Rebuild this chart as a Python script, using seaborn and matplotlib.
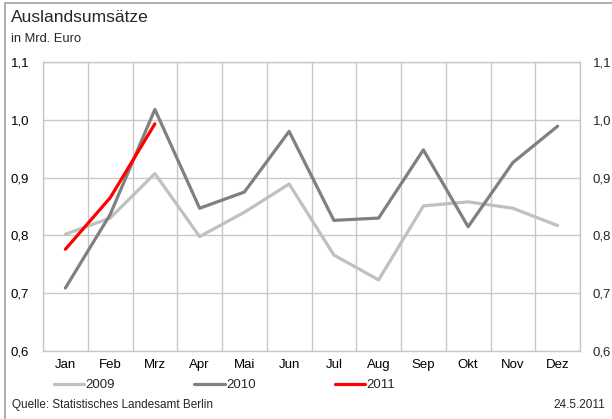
import matplotlib
matplotlib.use("Agg")
import matplotlib.pyplot as plt
import seaborn as sns
import pandas as pd
import numpy as np
from matplotlib.patches import Rectangle

months = ["Jan", "Feb", "Mrz", "Apr", "Mai", "Jun", "Jul", "Aug", "Sep", "Okt", "Nov", "Dez"]
v2009 = [0.802, 0.830, 0.907, 0.798, 0.840, 0.889, 0.766, 0.723, 0.851, 0.858, 0.847, 0.817]
v2010 = [0.709, 0.836, 1.018, 0.847, 0.875, 0.980, 0.826, 0.830, 0.948, 0.815, 0.926, 0.989]
v2011 = [0.776, 0.865, 0.993]
yticks = [0.6, 0.7, 0.8, 0.9, 1.0, 1.1]
ytick_labels = ["0,6", "0,7", "0,8", "0,9", "1,0", "1,1"]

sns.set_style("white")
plt.rcParams['font.family'] = ['Liberation Sans', 'DejaVu Sans']

rows = []
for year, vals in (("2009", v2009), ("2010", v2010), ("2011", v2011)):
    for i, v in enumerate(vals):
        rows.append({"pos": i, "Monat": months[i], "Wert": v, "Jahr": year})
df = pd.DataFrame(rows)

fig = plt.figure(figsize=(6.12, 4.19), dpi=100)
ax = fig.add_axes([43/612, 1-351/419, (580-43)/612, (351-62)/419])

palette = {"2009": "#c0c0c0", "2010": "#808080", "2011": "#ff0000"}
sns.lineplot(data=df, x="pos", y="Wert", hue="Jahr", palette=palette,
             linewidth=2.3, ax=ax, legend=True)

ax.set_xlim(-0.5, 11.5)
ax.set_ylim(0.6, 1.1)
ax.set_xticks(range(12))
ax.set_xticklabels(months)
ax.set_xticks(np.arange(-0.5, 12, 1), minor=True)
ax.set_yticks(yticks)
ax.set_yticklabels(ytick_labels)
ax.grid(False)
ax.grid(True, which="minor", axis="x", color="#c8c8c8", linewidth=1)
ax.grid(True, which="major", axis="y", color="#c8c8c8", linewidth=1)
ax.set_axisbelow(True)
for s in ax.spines.values():
    s.set_color("#c8c8c8")
    s.set_linewidth(1)
ax.tick_params(axis="both", which="both", length=0, labelsize=9.5, colors="#000000")
ax.tick_params(axis="y", pad=10)
ax.tick_params(axis="x", pad=6)
ax.set_xlabel("")
ax.set_ylabel("")

ax2 = ax.twinx()
ax2.set_ylim(0.6, 1.1)
ax2.set_yticks(yticks)
ax2.set_yticklabels(ytick_labels)
ax2.tick_params(axis="y", length=0, labelsize=9.5, pad=9)
for s in ax2.spines.values():
    s.set_visible(False)

handles, labels = ax.get_legend_handles_labels()
if ax.legend_:
    ax.legend_.remove()
fig.legend(handles, labels, loc="center left", bbox_to_anchor=(54/612, 1-385/419),
           ncol=3, frameon=False, fontsize=9.5, handlelength=2.3, handletextpad=0.1,
           columnspacing=6.0, borderaxespad=0, borderpad=0)

fig.text(11/612, 1-17/419, "Auslandsumsätze", fontsize=12.5, ha="left", va="center")
fig.text(11/612, 1-39/419, "in Mrd. Euro", fontsize=9.3, ha="left", va="center")
fig.text(12/612, 1-405/419, "Quelle: Statistisches Landesamt Berlin", fontsize=8.5, ha="left", va="center")
fig.text(605/612, 1-405/419, "24.5.2011", fontsize=8.5, ha="right", va="center")

fig.patches.append(Rectangle((5/612, -0.05), 1.2, 1 - 3/419 + 0.05, transform=fig.transFigure,
                             fill=False, edgecolor="#a0a0a0", linewidth=1.2))

fig.savefig("out.png", dpi=100)
